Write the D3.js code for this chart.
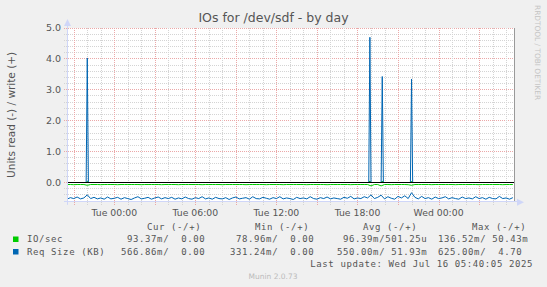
<!DOCTYPE html>
<html>
<head>
<meta charset="utf-8">
<script src="https://cdn.jsdelivr.net/npm/d3@7"></script>
<style>
    body { margin: 0; background: #f0f0f0; }
    svg { display: block; }
    text { font-family: 'DejaVu Sans', sans-serif; fill: #555; }
    .legend text { font-family: 'DejaVu Sans Mono', monospace; font-size: 9px; letter-spacing: 0.6px; white-space: pre; }
    .grid line { stroke-dasharray: 1,1; shape-rendering: crispEdges; }
    .grid .minor { stroke: #d4d4d4; }
    .grid .major { stroke: #eba8a8; }
    .series { fill: none; stroke-width: 1; }
</style>
</head>
<body>
<script>
'use strict';

// time window of the day graph (UTC, so the browser zone does not matter)
const startTime = '2025-07-14T20:30:00Z';
const endTime = '2025-07-16T05:35:00Z';
const readStepMinutes = 15;
const writeStepMinutes = 5;

// read side (drawn below zero), one value every 15 minutes
const ioReadValues = [
    .065,.065,.07,.065,.065,.065,.09,.065,.065,.065,
    .07,.065,.065,.065,.065,.07,.065,.065,.065,.065,
    .065,.065,.07,.065,.065,.065,.065,.065,.07,.065,
    .065,.065,.065,.07,.065,.065,.065,.065,.065,.065,
    .07,.065,.065,.065,.065,.065,.07,.065,.065,.065,
    .065,.065,.065,.07,.065,.065,.065,.065,.065,.07,
    .065,.065,.065,.065,.07,.065,.065,.065,.065,.065,
    .065,.07,.065,.065,.065,.065,.065,.07,.065,.065,
    .065,.065,.065,.065,.07,.065,.065,.065,.065,.065,
    .11,.065,.065,.11,.065,.065,.07,.065,.065,.065,
    .065,.07,.09,.065,.065,.065,.065,.065,.07,.065,
    .065,.065,.065,.065,.065,.07,.065,.065,.065,.065,
    .065,.065,.07,.065,.065,.065,.065,.065,.065,.07,
    .065,.065,.065
];
const reqReadValues = [
    .54,.49,.52,.47,.53,.50,.40,.52,.48,.53,
    .50,.54,.47,.53,.51,.48,.54,.49,.52,.55,
    .50,.46,.53,.51,.48,.54,.50,.47,.53,.49,
    .52,.48,.54,.50,.53,.47,.52,.54,.49,.52,
    .46,.53,.50,.54,.48,.52,.53,.49,.55,.50,
    .47,.53,.51,.49,.54,.46,.52,.53,.48,.51,
    .54,.49,.52,.46,.53,.50,.52,.55,.48,.52,
    .50,.53,.46,.52,.54,.49,.52,.47,.53,.50,
    .52,.54,.48,.51,.45,.53,.50,.52,.46,.50,
    .40,.52,.48,.41,.53,.46,.51,.54,.45,.50,
    .43,.52,.33,.48,.53,.45,.52,.49,.54,.47,
    .52,.50,.46,.53,.49,.52,.54,.47,.52,.50,
    .53,.46,.52,.49,.54,.48,.52,.53,.45,.52,
    .50,.54,.49
];

// write side (drawn above zero): zero except for these samples
const ioWriteSpikes = [
    ['2025-07-14T22:00:00Z', 0.04],
    ['2025-07-15T18:55:00Z', 0.05],
    ['2025-07-15T19:50:00Z', 0.05],
    ['2025-07-15T22:00:00Z', 0.04]
];
const reqWriteSpikes = [
    ['2025-07-14T22:00:00Z', 4.03],
    ['2025-07-15T18:55:00Z', 4.70],
    ['2025-07-15T19:50:00Z', 3.43],
    ['2025-07-15T22:00:00Z', 3.35]
];

const yDomain = [-0.625, 5];
const yLabelTicks = [0, 1, 2, 3, 4, 5];

const seriesNames = ['IO/sec', 'Req Size (KB)'];
const statHeaders = ['Cur (-/+)', 'Min (-/+)', 'Avg (-/+)', 'Max (-/+)'];
const ioStats = [' 93.37m/  0.00', ' 78.96m/  0.00', ' 96.39m/501.25u', '136.52m/ 50.43m'];
const reqStats = ['566.86m/  0.00', '331.24m/  0.00', '550.00m/ 51.93m', '625.00m/  4.70'];
const lastUpdate = 'Last update: Wed Jul 16 05:40:05 2025';

(function () {

    const colors = { io: '#00cc00', req: '#0066b3', axis: '#cfd6f8' };

    function getPlotArea() {
        // 30.9 px per unit, zero exactly on a pixel centre (182.5)
        return {
            svg: { width: 547, height: 287 },
            left: 67, right: 514, top: 28, bottom: 201.8125
        };
    }

    function makeScales(plot) {
        return {
            x: d3.scaleUtc()
                .domain([new Date(startTime), new Date(endTime)])
                .range([plot.left, plot.right]),
            y: d3.scaleLinear()
                .domain(yDomain)
                .range([plot.bottom, plot.top])
        };
    }

    /**
     * Read values are stored as magnitudes and drawn negative.
     */
    function readSeries(values) {
        const t0 = new Date(startTime);
        return values.map((v, i) => ({ t: d3.utcMinute.offset(t0, i * readStepMinutes), v: -v }));
    }

    function writeSeries(spikes) {
        const lookup = new Map(spikes.map(s => [+new Date(s[0]), s[1]]));
        const times = d3.utcMinute.every(writeStepMinutes).range(new Date(startTime), new Date(endTime));
        return times.map(t => ({ t: t, v: lookup.get(+t) || 0 }));
    }

    function appendGrid(svg, plot, scales) {
        const grid = svg.append('g').attr('class', 'grid');
        d3.range(-3, 26).forEach(k => {
            const yy = Math.floor(scales.y(k / 5)) + 0.5;
            grid.append('line')
                .attr('class', k % 5 === 0 ? 'major' : 'minor')
                .attr('x1', plot.left - 3).attr('x2', plot.right)
                .attr('y1', yy).attr('y2', yy);
        });
        d3.utcHour.range(new Date(startTime), new Date(endTime)).forEach(t => {
            const xx = Math.round(scales.x(t)) + 0.5;
            grid.append('line')
                .attr('class', t.getUTCHours() % 3 === 0 ? 'major' : 'minor')
                .attr('x1', xx).attr('x2', xx)
                .attr('y1', plot.top).attr('y2', plot.bottom + 3);
        });
    }

    function appendSeries(svg, scales, data, color) {
        const line = d3.line()
            .x(d => scales.x(d.t))
            .y(d => scales.y(d.v));
        svg.append('path')
            .attr('class', 'series')
            .attr('stroke', color)
            .attr('d', line(data));
    }

    function appendAxes(svg, plot, scales) {
        const zeroY = scales.y(0);
        svg.append('line')
            .attr('x1', plot.left).attr('x2', plot.right)
            .attr('y1', zeroY).attr('y2', zeroY)
            .attr('stroke', '#000');
        svg.append('line')
            .attr('x1', plot.right + 0.5).attr('x2', plot.right + 0.5)
            .attr('y1', plot.top).attr('y2', plot.bottom)
            .attr('stroke', '#999');
        svg.append('line')
            .attr('x1', plot.left + 0.5).attr('x2', plot.left + 0.5)
            .attr('y1', plot.bottom + 3).attr('y2', plot.top - 4)
            .attr('stroke', colors.axis);
        svg.append('line')
            .attr('x1', plot.left - 3).attr('x2', plot.right + 4)
            .attr('y1', Math.floor(plot.bottom) + 0.5).attr('y2', Math.floor(plot.bottom) + 0.5)
            .attr('stroke', colors.axis);
        svg.append('path')
            .attr('d', `M${plot.left - 3},${plot.top - 2}L${plot.left + 4},${plot.top - 2}L${plot.left + 0.5},${plot.top - 9}Z`)
            .attr('fill', colors.axis);
        svg.append('path')
            .attr('d', `M${plot.right + 3},${plot.bottom - 3}L${plot.right + 3},${plot.bottom + 4}L${plot.right + 10},${plot.bottom + 0.5}Z`)
            .attr('fill', colors.axis);

        svg.append('g').selectAll('text')
            .data(yLabelTicks)
            .join('text')
            .attr('x', plot.left - 6)
            .attr('y', d => scales.y(d))
            .attr('dy', '0.36em')
            .attr('text-anchor', 'end')
            .style('font-size', '9.5px')
            .text(d => d.toFixed(1));

        const labelTimes = d3.utcHour.every(6).range(new Date(startTime), new Date(endTime));
        svg.append('g').selectAll('text')
            .data(labelTimes)
            .join('text')
            .attr('x', d => scales.x(d))
            .attr('y', plot.bottom + 14)
            .attr('text-anchor', 'middle')
            .style('font-size', '9.3px')
            .text(d3.utcFormat('%a %H:%M'));
    }

    function appendTexts(svg, plot) {
        svg.append('text')
            .attr('x', plot.svg.width / 2)
            .attr('y', 22)
            .attr('text-anchor', 'middle')
            .style('font-size', '12.5px')
            .text('IOs for /dev/sdf - by day');
        svg.append('text')
            .attr('transform', 'translate(15,' + ((plot.top + plot.bottom) / 2) + ') rotate(-90)')
            .attr('text-anchor', 'middle')
            .style('font-size', '10.5px')
            .text('Units read (-) / write (+)');
        svg.append('text')
            .attr('transform', 'translate(535,5) rotate(90)')
            .style('font-size', '7.4px')
            .style('fill', '#c4c4c4')
            .text('RRDTOOL / TOBI OETIKER');
        svg.append('text')
            .attr('x', 273)
            .attr('y', 279)
            .attr('text-anchor', 'middle')
            .style('font-size', '7.5px')
            .style('fill', '#bbb')
            .text('Munin 2.0.73');
    }

    function appendLegend(svg) {
        const legend = svg.append('g').attr('class', 'legend');
        const headerX = [147, 255, 363, 472];
        const statX = [121, 230, 337, 438];
        const rowY = [229.5, 242, 254.5, 267];

        statHeaders.forEach((h, i) => {
            legend.append('text').attr('x', headerX[i]).attr('y', rowY[0]).text(h);
        });
        [[ioStats, colors.io], [reqStats, colors.req]].forEach((row, r) => {
            const y = rowY[r + 1];
            legend.append('rect')
                .attr('x', 13).attr('y', y - 5.5)
                .attr('width', 5.5).attr('height', 5.5)
                .attr('fill', row[1]);
            legend.append('text').attr('x', 27).attr('y', y).text(seriesNames[r]);
            row[0].forEach((s, i) => {
                legend.append('text')
                    .attr('xml:space', 'preserve')
                    .attr('x', statX[i]).attr('y', y).text(s);
            });
        });
        legend.append('text')
            .attr('x', 533).attr('y', rowY[3])
            .attr('text-anchor', 'end')
            .text(lastUpdate);
    }

    function draw() {
        const plot = getPlotArea();
        const svg = d3.select('body').append('svg')
            .attr('width', plot.svg.width)
            .attr('height', plot.svg.height);
        svg.append('rect')
            .attr('width', plot.svg.width).attr('height', plot.svg.height)
            .attr('fill', '#f0f0f0');
        svg.append('rect')
            .attr('x', plot.left).attr('y', plot.top)
            .attr('width', plot.right - plot.left).attr('height', plot.bottom - plot.top)
            .attr('fill', '#fff');
        const scales = makeScales(plot);
        appendGrid(svg, plot, scales);
        appendSeries(svg, scales, readSeries(ioReadValues), colors.io);
        appendSeries(svg, scales, writeSeries(ioWriteSpikes), colors.io);
        appendSeries(svg, scales, readSeries(reqReadValues), colors.req);
        appendSeries(svg, scales, writeSeries(reqWriteSpikes), colors.req);
        appendAxes(svg, plot, scales);
        appendTexts(svg, plot);
        appendLegend(svg);
    }

    window.onload = draw;

})();
</script>
</body>
</html>
